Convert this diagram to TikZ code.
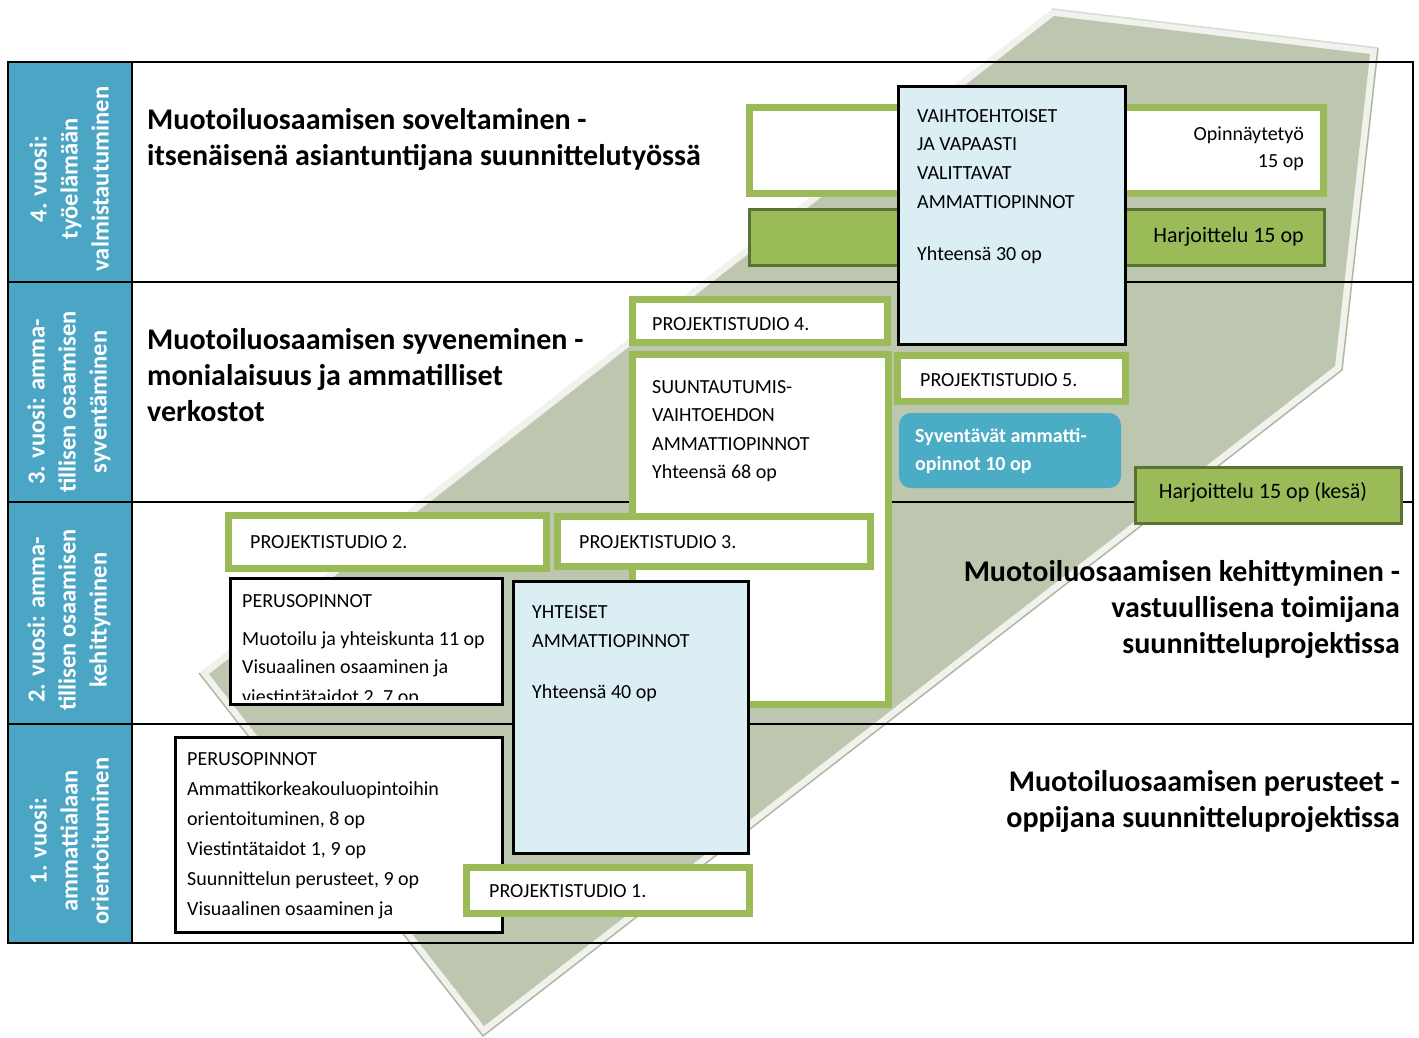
\documentclass[tikz,border=0pt]{standalone}
\usepackage{fontspec}
\setmainfont{Carlito}
\usetikzlibrary{fit}
\definecolor{gfr}{HTML}{9BBB59}
\definecolor{gdk}{HTML}{5A7332}
\definecolor{lblue}{HTML}{DBEEF4}
\definecolor{colblue}{HTML}{4AA6C4}
\definecolor{syvblue}{HTML}{4BACC6}
\definecolor{shapefill}{HTML}{BDC6AF}
\definecolor{shapeedge}{HTML}{F1F2EE}
\definecolor{shapeline}{HTML}{AEB89E}
\newcommand{\tstr}{\rule{0pt}{0.8em}}
\begin{document}
\begin{tikzpicture}[x=1pt,y=-1pt,
  gframe/.style={draw=gfr, line width=7pt, fill=white, inner sep=0pt},
  bframe/.style={draw=black, line width=3pt, fill=white, inner sep=0pt},
  bluebox/.style={draw=black, line width=3pt, fill=lblue, inner sep=0pt},
  harj/.style={draw=gdk, line width=3pt, fill=gfr, inner sep=0pt},
  rowcell/.style={draw=black, line width=2pt, inner sep=0pt},
  colcell/.style={draw=black, line width=2pt, fill=colblue, inner sep=0pt},
  collab/.style={rotate=90, text=white, align=center, inner sep=0pt, font=\fontsize{24.5}{31}\selectfont\bfseries},
  title/.style={inner sep=0pt, font=\fontsize{30}{36}\selectfont\bfseries},
  txt/.style={inner sep=0pt, align=left, anchor=north west, font=\fontsize{20}{28.5}\selectfont},
  line/.style={inner sep=0pt, anchor=base west, font=\fontsize{20}{24}\selectfont},
  big/.style={inner sep=0pt, font=\fontsize{22}{26}\selectfont}
]
\useasboundingbox (0,0) rectangle (1419,1038);

% background shape
\fill[shapeedge] (1052,9) -- (1378,48) -- (1342,370) -- (483,1036) -- (199,673) -- cycle;
\draw[shapeline, line width=1.5pt] (1378,48) -- (1342,370) -- (483,1036) -- (199,673);
\draw[shapeline!50, line width=1.5pt] (1052,9) -- (1378,48);
\fill[shapefill] (1054,16) -- (1370,54) -- (1335,366) -- (484,1026) -- (209,674) -- cycle;

% table
\node[colcell, fit={(8,62) (132,282)}] (c4) {};
\node[colcell, fit={(8,282) (132,502)}] (c3) {};
\node[colcell, fit={(8,502) (132,724)}] (c2) {};
\node[colcell, fit={(8,724) (132,943)}] (c1) {};
\node[rowcell, fit={(132,62) (1413,282)}] (r4) {};
\node[rowcell, fit={(132,282) (1413,502)}] (r3) {};
\node[rowcell, fit={(132,502) (1413,724)}] (r2) {};
\node[rowcell, fit={(132,724) (1413,943)}] (r1) {};

\node[collab] (l4) at (69,179) {4. vuosi:\\työelämään\\valmistautuminen};
\node[collab] (l3) at (69,402) {3. vuosi: amma-\\tillisen osaamisen\\syventäminen};
\node[collab] (l2) at (69,620) {2. vuosi: amma-\\tillisen osaamisen\\kehittyminen};
\node[collab] (l1) at (69,841) {1. vuosi:\\ammattialaan\\orientoituminen};

% titles
\node[title, anchor=north west, align=left] (t4) at (147,105) {\tstr Muotoiluosaamisen soveltaminen -\\itsenäisenä asiantuntijana suunnittelutyössä};
\node[title, anchor=north west, align=left] (t3) at (147,325) {\tstr Muotoiluosaamisen syveneminen -\\monialaisuus ja ammatilliset\\verkostot};
\node[title, anchor=north east, align=right] (t2) at (1400,557) {\tstr Muotoiluosaamisen kehittyminen -\\vastuullisena toimijana\\suunnitteluprojektissa};
\node[title, anchor=north east, align=right] (t1) at (1400,767) {\tstr Muotoiluosaamisen perusteet -\\oppijana suunnitteluprojektissa};

% boxes
\node[gframe, fit={(749.5,107.5) (1323.5,193.5)}] (opin) {};
\node[harj, fit={(749.5,209.5) (1324.5,265.5)}] (harj4) {};
\node[bluebox, fit={(898.5,86.5) (1125.5,344.5)}] (vaihto) {};
\node[gframe, fit={(632.5,299.5) (887.5,342.5)}] (ps4) {};
\node[gframe, fit={(632.5,354.5) (888.5,704.5)}] (suunt) {};
\node[gframe, fit={(897.5,355.5) (1125.5,401.5)}] (ps5) {};
\node[fill=syvblue, rounded corners=12pt, inner sep=0pt, fit={(899,413) (1121,488)}] (syv) {};
\node[harj, fit={(1135.5,467.5) (1401.5,523.5)}] (hk) {};
\node[gframe, fit={(228.5,515.5) (546.5,568.5)}] (ps2) {};
\node[gframe, fit={(557.5,516.5) (870.5,566.5)}] (ps3) {};
\node[bframe, fit={(230.5,578.5) (502.5,704.5)}] (peru2) {};
\node[bluebox, fit={(513.5,581.5) (748.5,853.5)}] (yht) {};
\node[bframe, fit={(175.5,737.5) (502.5,932.5)}] (peru1) {};
\node[gframe, fit={(466.5,867.5) (749.5,913.5)}] (ps1) {};

% box texts
\node[big, anchor=north east, align=right, font=\fontsize{20}{27}\selectfont] (opintx) at (1304,124) {\tstr Opinnäytetyö\\15 op};
\node[big, anchor=base east] (harj4tx) at (1304,242) {Harjoittelu 15 op};
\node[txt, font=\fontsize{20}{28.7}\selectfont] (vaihtotx) at (917,106) {\tstr VAIHTOEHTOISET\\JA VAPAASTI\\VALITTAVAT\\AMMATTIOPINNOT\\[23pt]Yhteensä 30 op};
\node[line] (ps4tx) at (652,330) {PROJEKTISTUDIO 4.};
\node[txt] (suunttx) at (652,377) {\tstr SUUNTAUTUMIS-\\VAIHTOEHDON\\AMMATTIOPINNOT\\Yhteensä 68 op};
\node[line] (ps5tx) at (920,386) {PROJEKTISTUDIO 5.};
\node[txt, text=white, font=\fontsize{20}{28}\selectfont\bfseries] (syvtx) at (915,426) {\tstr Syventävät ammatti-\\opinnot 10 op};
\node[big, anchor=base] (hktx) at (1263,498) {Harjoittelu 15 op (kesä)};
\node[line] (ps2tx) at (250,548) {PROJEKTISTUDIO 2.};
\node[line] (ps3tx) at (579,548) {PROJEKTISTUDIO 3.};
\begin{scope}
\clip (232,580) rectangle (501,699);
\node[txt] (peru2tx) at (242,591) {\tstr PERUSOPINNOT\\[9.5pt]Muotoilu ja yhteiskunta 11 op\\Visuaalinen osaaminen ja\\[1pt]viestintätaidot 2, 7 op};
\end{scope}
\node[txt, font=\fontsize{20}{29}\selectfont] (yhttx) at (532,602) {\tstr YHTEISET\\AMMATTIOPINNOT\\[22pt]Yhteensä 40 op};
\node[txt, font=\fontsize{20}{30}\selectfont] (peru1tx) at (187,749) {\tstr PERUSOPINNOT\\Ammattikorkeakouluopintoihin\\orientoituminen, 8 op\\Viestintätaidot 1, 9 op\\Suunnittelun perusteet, 9 op\\Visuaalinen osaaminen ja};
\node[line] (ps1tx) at (489,897) {PROJEKTISTUDIO 1.};
\end{tikzpicture}
\end{document}
